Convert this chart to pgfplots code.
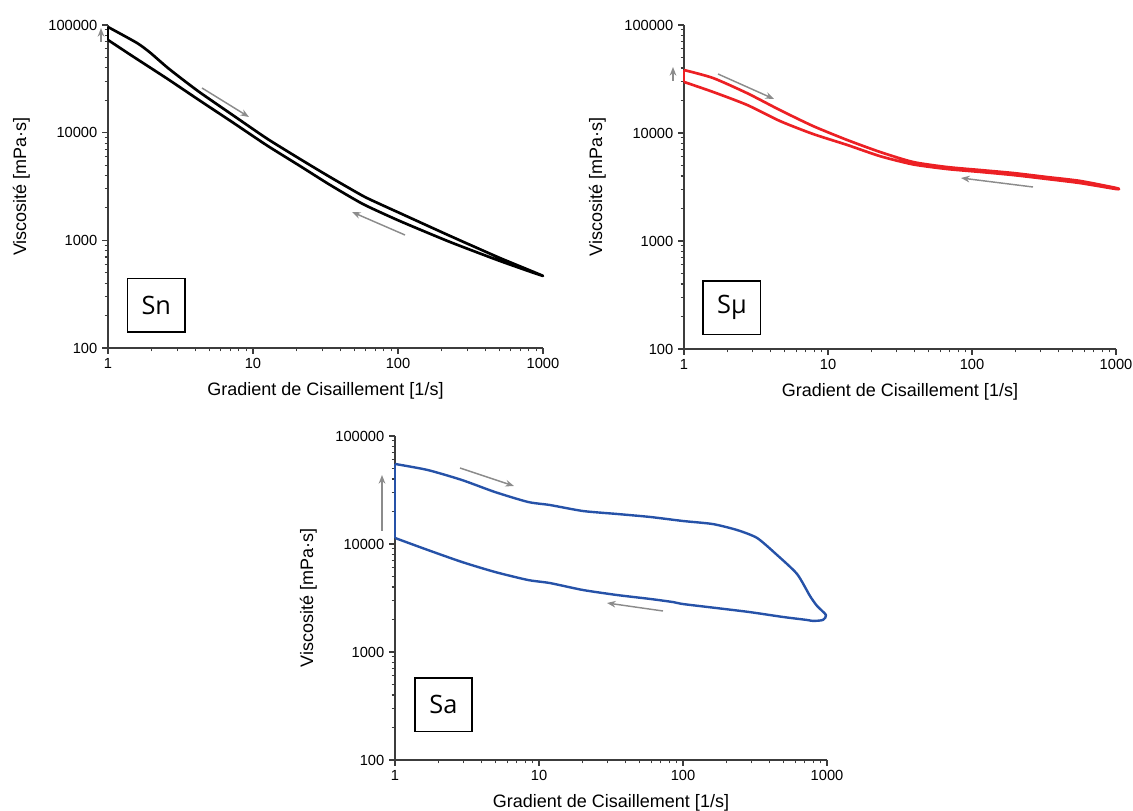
\documentclass[border=0pt]{standalone}
\usepackage{fontspec}
\setmainfont{Liberation Sans}
\newfontfamily\boxfont{Open Sans}
\usepackage{pgfplots}
\pgfplotsset{compat=1.18}
\usetikzlibrary{arrows.meta}
\definecolor{snred}{RGB}{236,32,36}
\definecolor{sablue}{RGB}{38,82,168}
\definecolor{axgray}{RGB}{60,60,60}
\definecolor{arrgray}{RGB}{140,140,140}
\tikzset{
  tagbox/.style={draw=black, line width=1.2pt, minimum width=43pt, minimum height=40pt,
    font=\boxfont\fontsize{19}{22}\selectfont, inner sep=0pt},
}
\pgfplotsset{
  every axis/.append style={
    scale only axis,
    xmin=1, xmax=1000, ymin=100, ymax=100000,
    axis x line*=bottom, axis y line*=left,
    axis line style={axgray, line width=1pt},
    tick style={axgray, line width=0.8pt},
    tick align=outside,
    major tick length=4.5pt, minor tick length=2.5pt,
    log ticks with fixed point,
    tick label style={font=\fontsize{11}{13}\selectfont},
    label style={font=\fontsize{13.5}{16}\selectfont},
    xlabel={Gradient de Cisaillement [1/s]},
    ylabel={Viscosité [mPa·s]},
    xlabel shift=3pt, ylabel shift=7pt,
    clip=false,
  },
  /pgf/number format/1000 sep={},
  /pgf/number format/assume math mode=true,
}
\begin{document}
\begin{tikzpicture}
\useasboundingbox (0,0) rectangle (849.75pt,608.25pt);

% Sn
\begin{loglogaxis}[at={(81pt,347.25pt)}, anchor=south west, width=326.25pt, height=242.25pt]
\addplot[black, line width=2pt] coordinates {(1,72600) (1,95800)};
\addplot[black, line width=2pt, line join=round, smooth, tension=0.35] coordinates {
(1,95800) (1.585,68100) (1.949,55500) (2.553,40500) (3.29,31000) (4.31,23600)
(7.28,14500) (12.5,8800) (21.1,5690) (34.0,3870) (57.4,2580) (75.2,2170) (103,1790)
(228,1100) (505,685) (1000,467)
(505,643) (228,966) (103,1510) (57.4,2170) (34.0,3270) (21.1,4900) (12.5,7600)
(7.28,12400) (4.31,19800) (2.553,31800) (1.487,51000) (1,72600)
};
\node[tagbox] at (rel axis cs:0.111,0.133) {Sn};
\end{loglogaxis}

% S mu
\begin{loglogaxis}[at={(513pt,346.5pt)}, anchor=south west, width=324pt, height=243pt]
\addplot[snred, line width=2pt] coordinates {(1,29700) (1,38300)};
\addplot[snred, line width=2pt, line join=round, smooth, tension=0.4] coordinates {
(1,38300) (1.59,32300) (2.74,23400) (4.64,16300) (7.87,11600) (13.6,8610)
(23.0,6670) (38.9,5390) (67.0,4840) (114,4540) (193,4260) (332,3910) (562,3600) (1000,3100)
(1000,3030) (562,3440) (332,3750) (193,4080) (114,4360) (67.0,4640) (38.9,5120)
(23.0,6100) (13.6,7750) (7.87,9790) (4.64,12900) (2.74,18200) (1.59,24000) (1,29700)
};
\node[tagbox] at (rel axis cs:0.111,0.127) {Sμ};
\end{loglogaxis}

% Sa
\begin{loglogaxis}[at={(296.25pt,38.25pt)}, anchor=south west, width=324pt, height=243pt]
\addplot[sablue, line width=1.8pt] coordinates {(1,11370) (1,55100)};
\addplot[sablue, line width=1.8pt, line join=round, smooth, tension=0.4] coordinates {
(1,55100) (1.69,48400) (2.92,39100) (4.94,30300) (8.39,24500) (11.9,22960)
(20.2,20200) (34.8,18970) (59.0,17800) (100,16330) (161,15300) (237,13480) (327,11370)
(450,7910) (620,5270) (762,3300) (853,2670) (984,2200)
(937,1980) (800,1940) (726,1980) (495,2110) (292,2340) (172,2550) (100,2780)
(85.3,2900) (59.0,3100) (34.8,3370) (20.2,3750) (11.9,4350) (8.39,4640) (4.94,5510)
(2.92,6810) (1.69,8800) (1,11370)
};
\node[tagbox] at (rel axis cs:0.112,0.170) {Sa};
\end{loglogaxis}

% direction arrows (pixel grid of the reference, 0.75pt per px)
\begin{scope}[x=0.75pt, y=0.75pt, arrgray, line width=1.1pt, -{Stealth[length=6.5pt,width=5pt]}]
\draw (101,769) -- (101,783);
\draw (202,723) -- (249,694);
\draw (405,576) -- (352,599);
\draw (673,730) -- (673,744);
\draw (718,737) -- (774,712);
\draw (1033,624) -- (961,633);
\draw (382,280) -- (382,336);
\draw (460,343) -- (514,325);
\draw (663,200) -- (607,208);
\end{scope}
\end{tikzpicture}
\end{document}
